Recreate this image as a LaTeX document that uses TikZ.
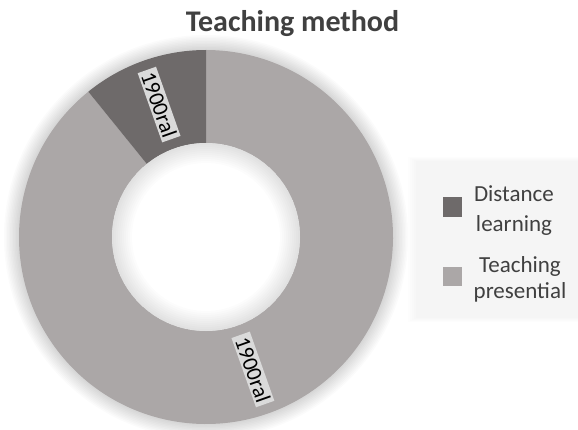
\documentclass[tikz,border=0pt]{standalone}
\usepackage{fontspec}
\setmainfont{Carlito}
\definecolor{ringdark}{RGB}{110,106,106}
\definecolor{ringlight}{RGB}{171,167,167}
\definecolor{labbg}{RGB}{218,218,218}
\definecolor{txtgray}{RGB}{64,64,64}
\definecolor{legbg}{RGB}{245,245,245}
\tikzset{
  slicelabel/.style={fill=labbg, text=black, inner xsep=3pt, inner ysep=2pt,
    font=\fontsize{22}{24}\selectfont, rotate=-70.5},
  legtext/.style={text=txtgray, anchor=base, font=\fontsize{23}{28}\selectfont, inner sep=0pt},
  legkey/.style={minimum size=19pt, inner sep=0pt, draw=none}
}
\begin{document}
\begin{tikzpicture}[x=1pt,y=1pt]
\useasboundingbox (0,0) rectangle (578,429);
\fill[white] (0,0) rectangle (578,429);
% title
\node[text=txtgray, anchor=base, font=\bfseries\fontsize{30}{36}\selectfont, inner sep=0pt] (title) at (292.5,397) {Teaching method};
% donut
\begin{scope}[shift={(206,192)}]
  \foreach \i in {1,...,10} \fill[black,opacity=0.014] (0,0) circle ({187+1.5*\i});
  \fill[ringlight] (129:187) arc[start angle=129,end angle=450,radius=187] -- (90:94) arc[start angle=90,end angle=-231,radius=94] -- cycle;
  \fill[ringdark] (90:187) arc[start angle=90,end angle=129,radius=187] -- (129:94) arc[start angle=129,end angle=90,radius=94] -- cycle;
  \fill[white] (0,0) circle (94);
  \foreach \i in {1,...,10} \fill[black,opacity=0.011,even odd rule] (0,0) circle (94) (0,0) circle ({94-2*\i});
  \node[slicelabel] (lab1) at (109.5:140.5) {1900ral};
  \node[slicelabel] (lab2) at (289.5:140.5) {1900ral};
\end{scope}
% legend
\foreach \i in {1,...,5} \fill[black,opacity=0.008] ({418-2*\i},{112-\i}) rectangle (578,{267+\i});
\fill[legbg] (418,112) rectangle (578,267);
\node[legkey, fill=ringdark] (key1) at (452,222) {};
\node[legkey, fill=ringlight] (key2) at (452,153) {};
\node[legtext] (t1a) at (514,228) {Distance};
\node[legtext] (t1b) at (514,198) {learning};
\node[legtext] (t2a) at (520,157) {Teaching};
\node[legtext] (t2b) at (520,131) {presential};
\end{tikzpicture}
\end{document}
